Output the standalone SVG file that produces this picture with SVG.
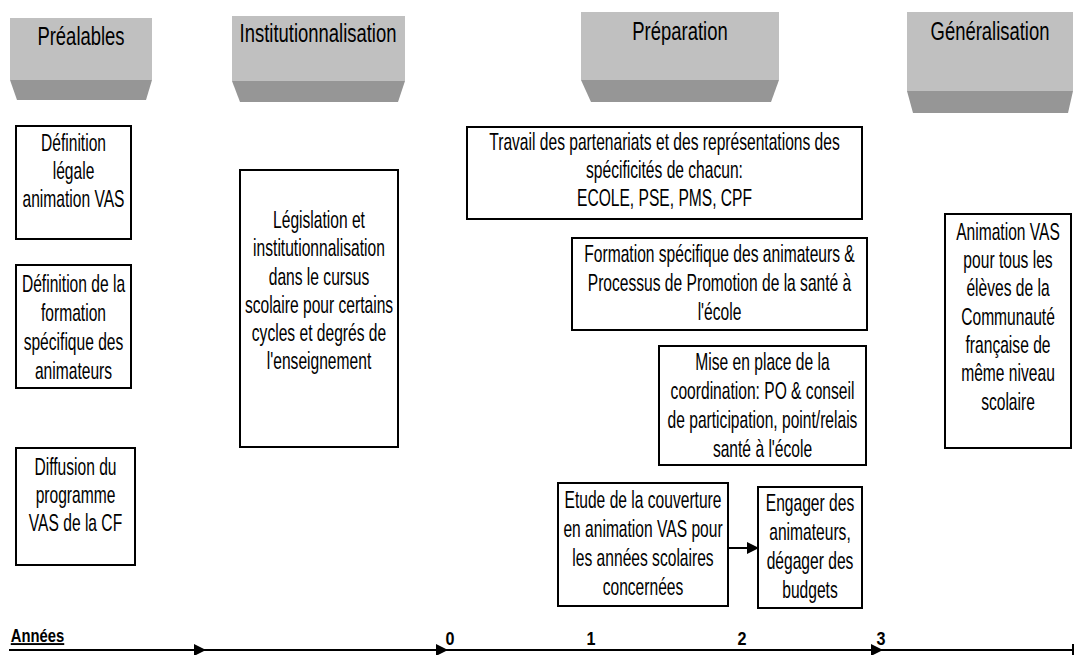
<svg xmlns="http://www.w3.org/2000/svg" width="1078" height="655" viewBox="0 0 1078 655">
<style>
.hdt{fill:#c0c0c0}
.hdb{fill:#969696}
.ht{font-family:"Liberation Sans",Arial,sans-serif;font-size:26px;text-anchor:middle;fill:#000}
.box{fill:#fff;stroke:#000;stroke-width:2}
.t{font-family:"Liberation Sans",Arial,sans-serif;font-size:24px;text-anchor:middle;fill:#000}
.b{font-family:"Liberation Sans",Arial,sans-serif;font-size:19px;font-weight:bold;text-anchor:middle;fill:#000}
.ln{stroke:#000;stroke-width:2;fill:none}
</style>
<defs>
<marker id="ah" markerWidth="12" markerHeight="12" refX="11" refY="6" orient="auto" markerUnits="userSpaceOnUse">
<path d="M0,0 L12,6 L0,12 Z" fill="#000"/>
</marker>
</defs>
<rect width="1078" height="655" fill="#fff"/>

<g id="h-prealables">
<rect class="hdt" x="10" y="18" width="142" height="62"/>
<polygon class="hdb" points="10,80 152,80 146,100 17,100"/>
<text class="ht" transform="translate(81,45) scale(0.71,1)">Préalables</text>
</g>
<g id="h-institutionnalisation">
<rect class="hdt" x="232" y="16" width="173" height="65"/>
<polygon class="hdb" points="232,81 405,81 398,102 240,102"/>
<text class="ht" transform="translate(318,42) scale(0.71,1)">Institutionnalisation</text>
</g>
<g id="h-preparation">
<rect class="hdt" x="581" y="12" width="198" height="68"/>
<polygon class="hdb" points="581,80 779,80 771,102 591,102"/>
<text class="ht" transform="translate(680,40) scale(0.71,1)">Préparation</text>
</g>
<g id="h-generalisation">
<rect class="hdt" x="907" y="12" width="166" height="79"/>
<polygon class="hdb" points="907,91 1073,91 1068,113 913,113"/>
<text class="ht" transform="translate(990,40) scale(0.71,1)">Généralisation</text>
</g>

<g id="n-definition-legale">
<rect class="box" x="16" y="126" width="115" height="113"/>
<text class="t" transform="translate(73.5,0) scale(0.65,1)"><tspan x="0" y="151">Définition</tspan><tspan x="0" y="179">légale</tspan><tspan x="0" y="207">animation VAS</tspan></text>
</g>
<g id="n-definition-formation">
<rect class="box" x="16" y="265" width="115" height="123"/>
<text class="t" transform="translate(73.5,0) scale(0.65,1)"><tspan x="0" y="292">Définition de la</tspan><tspan x="0" y="321">formation</tspan><tspan x="0" y="350">spécifique des</tspan><tspan x="0" y="379">animateurs</tspan></text>
</g>
<g id="n-diffusion">
<rect class="box" x="16" y="448" width="119" height="117"/>
<text class="t" transform="translate(75.5,0) scale(0.65,1)"><tspan x="0" y="475">Diffusion du</tspan><tspan x="0" y="503">programme</tspan><tspan x="0" y="531">VAS de la CF</tspan></text>
</g>
<g id="n-legislation">
<rect class="box" x="240" y="170" width="158" height="277"/>
<text class="t" transform="translate(319,0) scale(0.65,1)"><tspan x="0" y="228">Législation et</tspan><tspan x="0" y="256">institutionnalisation</tspan><tspan x="0" y="285">dans le cursus</tspan><tspan x="0" y="313">scolaire pour certains</tspan><tspan x="0" y="341">cycles et degrés de</tspan><tspan x="0" y="369">l'enseignement</tspan></text>
</g>
<g id="n-travail">
<rect class="box" x="467" y="127" width="395" height="92"/>
<text class="t" transform="translate(664.5,0) scale(0.65,1)"><tspan x="0" y="150">Travail des partenariats et des représentations des</tspan><tspan x="0" y="178">spécificités de chacun:</tspan><tspan x="0" y="206">ECOLE, PSE, PMS, CPF</tspan></text>
</g>
<g id="n-formation">
<rect class="box" x="572" y="238" width="295" height="92"/>
<text class="t" transform="translate(719.5,0) scale(0.65,1)"><tspan x="0" y="262">Formation spécifique des animateurs &amp;</tspan><tspan x="0" y="291">Processus de Promotion de la santé à</tspan><tspan x="0" y="320">l'école</tspan></text>
</g>
<g id="n-coordination">
<rect class="box" x="659" y="346" width="207" height="119"/>
<text class="t" transform="translate(762.5,0) scale(0.65,1)"><tspan x="0" y="370">Mise en place de la</tspan><tspan x="0" y="399">coordination: PO &amp; conseil</tspan><tspan x="0" y="428">de participation, point/relais</tspan><tspan x="0" y="457">santé à l'école</tspan></text>
</g>
<g id="n-etude">
<rect class="box" x="558" y="483" width="170" height="123"/>
<text class="t" transform="translate(643,0) scale(0.65,1)"><tspan x="0" y="508">Etude de la couverture</tspan><tspan x="0" y="537">en animation VAS pour</tspan><tspan x="0" y="566">les années scolaires</tspan><tspan x="0" y="595">concernées</tspan></text>
</g>
<g id="n-engager">
<rect class="box" x="758" y="487" width="104" height="121"/>
<text class="t" transform="translate(810,0) scale(0.65,1)"><tspan x="0" y="511">Engager des</tspan><tspan x="0" y="540">animateurs,</tspan><tspan x="0" y="569">dégager des</tspan><tspan x="0" y="598">budgets</tspan></text>
</g>
<g id="n-animation">
<rect class="box" x="945" y="214" width="126" height="234"/>
<text class="t" transform="translate(1008,0) scale(0.65,1)"><tspan x="0" y="240">Animation VAS</tspan><tspan x="0" y="268">pour tous les</tspan><tspan x="0" y="296">élèves de la</tspan><tspan x="0" y="325">Communauté</tspan><tspan x="0" y="353">française de</tspan><tspan x="0" y="381">même niveau</tspan><tspan x="0" y="410">scolaire</tspan></text>
</g>

<g id="timeline">
<text class="b" transform="translate(37.5,642) scale(0.78,1)" text-decoration="underline">Années</text>
<text class="b" transform="translate(450,645) scale(0.85,1)">0</text>
<text class="b" transform="translate(591,645) scale(0.85,1)">1</text>
<text class="b" transform="translate(742,645) scale(0.85,1)">2</text>
<text class="b" transform="translate(881,645) scale(0.85,1)">3</text>
</g>

<g id="connectors">
<line class="ln" x1="9" y1="650" x2="205" y2="650" marker-end="url(#ah)"/>
<line class="ln" x1="205" y1="650" x2="447" y2="650" marker-end="url(#ah)"/>
<line class="ln" x1="447" y1="650" x2="882" y2="650" marker-end="url(#ah)"/>
<line class="ln" x1="882" y1="650" x2="1073" y2="650"/>
<line class="ln" x1="1073" y1="644" x2="1073" y2="655"/>
<line class="ln" x1="728" y1="548" x2="758" y2="548" marker-end="url(#ah)"/>
</g>
</svg>
